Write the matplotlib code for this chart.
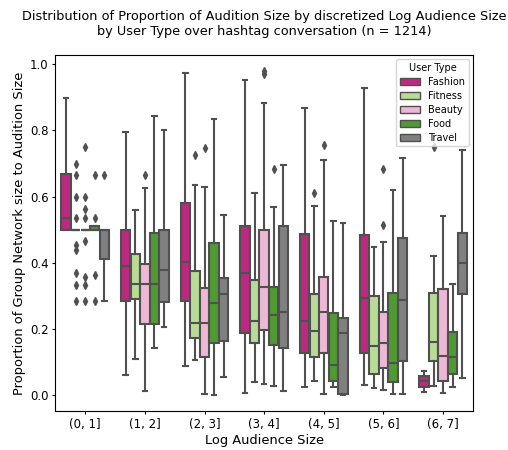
import numpy as np
import matplotlib
matplotlib.use("Agg")
import matplotlib.pyplot as plt
from matplotlib.patches import Patch

# bins of log audience size and the user types drawn as hue
groups = ["(0, 1]", "(1, 2]", "(2, 3]", "(3, 4]", "(4, 5]", "(5, 6]", "(6, 7]"]
user_types = ["Fashion", "Fitness", "Beauty", "Food", "Travel"]
colors = ["#bc2a80", "#b8db95", "#ecb8d6", "#4f9a32", "#808080"]

# box statistics per user type, one value per bin
q1 = {
    "Fashion": [0.500, 0.286, 0.286, 0.187, 0.129, 0.127, 0.026],
    "Fitness": [0.500, 0.290, 0.173, 0.157, 0.117, 0.063, 0.105],
    "Beauty":  [0.500, 0.216, 0.117, 0.197, 0.127, 0.083, 0.044],
    "Food":    [0.500, 0.216, 0.159, 0.152, 0.044, 0.039, 0.064],
    "Travel":  [0.411, 0.283, 0.164, 0.142, 0.004, 0.104, 0.306],
}
median = {
    "Fashion": [0.535, 0.391, 0.404, 0.368, 0.225, 0.293, 0.042],
    "Fitness": [0.500, 0.335, 0.218, 0.225, 0.195, 0.149, 0.162],
    "Beauty":  [0.500, 0.335, 0.218, 0.328, 0.253, 0.159, 0.120],
    "Food":    [0.500, 0.335, 0.278, 0.244, 0.092, 0.099, 0.115],
    "Travel":  [0.500, 0.379, 0.306, 0.253, 0.189, 0.288, 0.399],
}
q3 = {
    "Fashion": [0.668, 0.500, 0.582, 0.512, 0.486, 0.484, 0.058],
    "Fitness": [0.500, 0.428, 0.376, 0.348, 0.305, 0.300, 0.310],
    "Beauty":  [0.500, 0.396, 0.323, 0.500, 0.358, 0.253, 0.322],
    "Food":    [0.510, 0.489, 0.459, 0.327, 0.248, 0.310, 0.191],
    "Travel":  [0.500, 0.500, 0.354, 0.512, 0.233, 0.476, 0.489],
}
whisker_lo = {
    "Fashion": [0.500, 0.060, 0.087, 0.008, 0.024, 0.031, 0.010],
    "Fitness": [0.500, 0.111, 0.106, 0.041, 0.044, 0.021, 0.029],
    "Beauty":  [0.500, 0.013, 0.005, 0.033, 0.005, 0.016, 0.008],
    "Food":    [0.500, 0.143, 0.001, 0.029, 0.024, 0.004, 0.026],
    "Travel":  [0.286, 0.207, 0.054, 0.013, 0.001, 0.003, 0.053],
}
whisker_hi = {
    "Fashion": [0.899, 0.795, 0.973, 0.953, 0.869, 0.929, 0.074],
    "Fitness": [0.500, 0.559, 0.636, 0.610, 0.572, 0.448, 0.421],
    "Beauty":  [0.500, 0.625, 0.629, 0.882, 0.711, 0.462, 0.542],
    "Food":    [0.510, 0.843, 0.834, 0.570, 0.526, 0.621, 0.337],
    "Travel":  [0.500, 0.802, 0.544, 0.696, 0.522, 0.716, 0.741],
}
outliers = {
    "Fashion": [[], [], [], [], [], [], []],
    "Fitness": [[0.700, 0.667, 0.600, 0.535, 0.455, 0.440, 0.370, 0.333, 0.286],
                [], [0.725], [], [0.611], [], [0.750]],
    "Beauty":  [[0.750, 0.600, 0.562, 0.535, 0.465, 0.357, 0.333, 0.286],
                [0.667], [0.746], [0.980, 0.970], [0.755], [0.684, 0.515], []],
    "Food":    [[0.667, 0.535, 0.362, 0.286], [], [], [0.683], [], [], []],
    "Travel":  [[0.667], [], [], [], [], [], []],
}

line_color = "#505050"
lw = 1.5

fig = plt.figure(figsize=(5.08, 4.5), dpi=100)
ax = fig.add_axes([0.109, 0.087, 0.822, 0.790])

n_hue = len(user_types)
each_width = 0.8 / n_hue
offsets = np.linspace(-0.4 + each_width / 2, 0.4 - each_width / 2, n_hue)
x = np.arange(len(groups))

for i, ut in enumerate(user_types):
    stats = []
    for j in range(len(groups)):
        stats.append({
            "med": median[ut][j], "q1": q1[ut][j], "q3": q3[ut][j],
            "whislo": whisker_lo[ut][j], "whishi": whisker_hi[ut][j],
            "fliers": outliers[ut][j],
        })
    ax.bxp(stats, positions=x + offsets[i], widths=each_width * 0.98,
           patch_artist=True, manage_ticks=False,
           boxprops=dict(facecolor=colors[i], edgecolor=line_color, linewidth=lw),
           medianprops=dict(color=line_color, linewidth=lw),
           whiskerprops=dict(color=line_color, linewidth=lw),
           capprops=dict(color=line_color, linewidth=lw),
           flierprops=dict(marker="d", markerfacecolor=line_color,
                           markeredgecolor=line_color, markersize=3.8))

ax.set_xlim(-0.5, len(groups) - 0.5)
ax.set_ylim(-0.047, 1.027)
ax.set_xticks(x)
ax.set_xticklabels(groups)
ax.set_yticks([0.0, 0.2, 0.4, 0.6, 0.8, 1.0])
ax.tick_params(labelsize=8.5, length=2.5, pad=2.5)
ax.set_xlabel("Log Audience Size", fontsize=9.4, labelpad=2)
ax.set_ylabel("Proportion of Group Network size to Audition Size", fontsize=9.4, labelpad=3)
ax.set_title("Distribution of Proportion of Audition Size by discretized Log Audience Size\n"
             "by User Type over hashtag conversation (n = 1214)", fontsize=9.3, pad=15,
             linespacing=1.15)

handles = [Patch(facecolor=c, edgecolor=line_color, linewidth=1, label=ut)
           for c, ut in zip(colors, user_types)]
ax.legend(handles=handles, title="User Type", loc="upper right",
          fontsize=7.0, title_fontsize=7.0, labelspacing=0.4, handlelength=2.1,
          borderaxespad=0.4)

plt.savefig("out.png", dpi=100)
